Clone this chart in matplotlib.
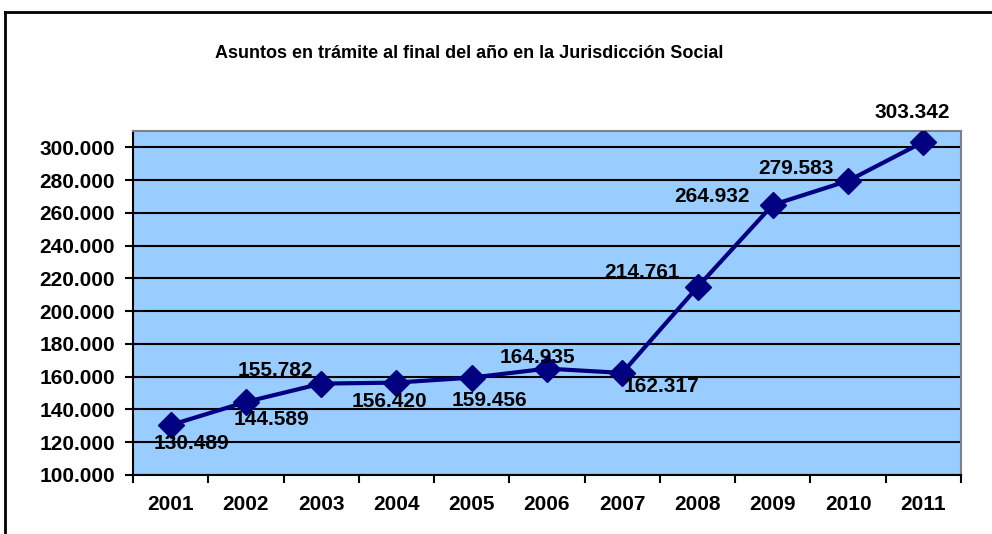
import numpy as np
import matplotlib
matplotlib.use("Agg")
import matplotlib.pyplot as plt
from matplotlib.lines import Line2D

plt.rcParams["font.family"] = ["Liberation Sans", "DejaVu Sans"]

YEARS = ["2001", "2002", "2003", "2004", "2005", "2006",
         "2007", "2008", "2009", "2010", "2011"]
ASUNTOS = [130489, 144589, 155782, 156420, 159456, 164935,
           162317, 214761, 264932, 279583, 303342]
Y_TICKS = list(range(100000, 300001, 20000))
TITLE = "Asuntos en trámite al final del año en la Jurisdicción Social"

# label offsets in pixels, (dx, dy) with dy positive = up
LABEL_OFFSETS = [(21, -18), (26, -18), (-46, 13), (-7, -19), (18, -23), (-10, 11),
                 (39, -14), (-55, 15), (-61, 8), (-52, 12), (-11, 29)]

NAVY = "#000080"
PLOT_BG = "#99CCFF"
FS = 15


def fmt_es(v):
    return f"{v:,.0f}".replace(",", ".")


fig = plt.figure(figsize=(9.92, 5.34), dpi=100)
ax = fig.add_axes([133 / 992, 59 / 534, 828 / 992, 344 / 534])
ax.set_facecolor(PLOT_BG)

x = np.arange(len(YEARS))
ax.plot(x, ASUNTOS, color=NAVY, lw=3, marker="D", markersize=13,
        markerfacecolor=NAVY, markeredgecolor=NAVY, zorder=3)

for xi, v, (dx, dy) in zip(x, ASUNTOS, LABEL_OFFSETS):
    ax.annotate(fmt_es(v), (xi, v), xytext=(dx, dy), textcoords="offset pixels",
                ha="center", va="center", fontsize=FS, fontweight="bold",
                color="black", zorder=4, annotation_clip=False)

ax.set_xlim(-0.5, len(YEARS) - 0.5)
ax.set_ylim(100000, 310000)

ax.set_yticks(Y_TICKS)
ax.set_yticklabels([fmt_es(t) for t in Y_TICKS], fontsize=FS, fontweight="bold")
ax.yaxis.grid(True, color="black", lw=1.5, zorder=1)
ax.set_axisbelow(True)

# category labels at centres, tick marks at boundaries
ax.set_xticks(x)
ax.set_xticklabels(YEARS, fontsize=FS, fontweight="bold")
ax.tick_params(axis="x", which="major", length=0, pad=14.5)
ax.set_xticks(np.arange(-0.5, len(YEARS)), minor=True)
ax.tick_params(axis="x", which="minor", length=6, width=1.5, direction="out")
ax.tick_params(axis="y", length=6, width=1.5, direction="out", pad=7)

ax.spines["left"].set_color("black")
ax.spines["left"].set_linewidth(1.5)
ax.spines["bottom"].set_color("black")
ax.spines["bottom"].set_linewidth(1.5)
for s in ("top", "right"):
    ax.spines[s].set_color("#808080")
    ax.spines[s].set_linewidth(1.5)

fig.text(469 / 992, 1 - 53 / 534, TITLE, ha="center", va="center",
         fontsize=13, fontweight="bold")

# outer chart border (left and top visible)
fig.add_artist(Line2D([5 / 992, 5 / 992], [0, 1 - 12 / 534], color="black", lw=2,
                      transform=fig.transFigure))
fig.add_artist(Line2D([5 / 992, 1], [1 - 12 / 534, 1 - 12 / 534], color="black", lw=2,
                      transform=fig.transFigure))

fig.savefig("out.png", dpi=100)
